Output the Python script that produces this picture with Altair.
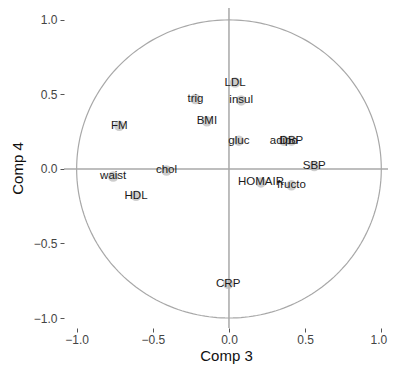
import altair as alt
import pandas as pd
import numpy as np

labels = ["LDL", "insul", "trig", "BMI", "FM", "waist", "chol", "HDL",
          "gluc", "adipo", "DBP", "SBP", "HOMAIR", "fructo", "CRP"]
comp3 = [0.04, 0.08, -0.22, -0.145, -0.72, -0.76, -0.41, -0.61,
         0.065, 0.36, 0.41, 0.56, 0.21, 0.41, -0.005]
comp4 = [0.58, 0.46, 0.47, 0.32, 0.29, -0.05, -0.01, -0.18,
         0.19, 0.19, 0.19, 0.02, -0.09, -0.11, -0.77]

df = pd.DataFrame({"label": labels, "x": comp3, "y": comp4})

t = np.linspace(0, 2 * np.pi, 241)
circ = pd.DataFrame({"i": np.arange(len(t)), "x": np.cos(t), "y": np.sin(t)})

ticks = [-1.0, -0.5, 0.0, 0.5, 1.0]
font = "Liberation Sans"

xs = alt.Scale(domain=[-1.083, 1.044], nice=False, zero=False)
ys = alt.Scale(domain=[-1.067, 1.08], nice=False, zero=False)

xax = alt.Axis(values=ticks, format=".1f", title="Comp 3", domain=False, grid=False,
               tickColor="#555", tickSize=4, labelColor="#444", labelFontSize=12,
               labelFont=font, labelPadding=2, labelBaseline="top",
               labelOffset={"expr": "datum.value == 1 ? -3 : 0"},
               titleFont=font, titleFontSize=15,
               titleFontWeight="normal", titleColor="#111", titlePadding=3)
yax = alt.Axis(values=ticks, format=".1f", title="Comp 4", domain=False, grid=False,
               tickColor="#555", tickSize=4, labelColor="#444", labelFontSize=12,
               labelFont=font, labelPadding=3, titleFont=font, titleFontSize=15,
               titleFontWeight="normal", titleColor="#111", titlePadding=8)

circle = alt.Chart(circ).mark_line(color="#A8A8A8", strokeWidth=1.2).encode(
    x=alt.X("x:Q", scale=xs, axis=xax),
    y=alt.Y("y:Q", scale=ys, axis=yax),
    order="i:Q",
)

hline = alt.Chart(pd.DataFrame({"y": [0.0]})).mark_rule(color="#A8A8A8", strokeWidth=1.5).encode(
    y=alt.Y("y:Q", scale=ys))
vline = alt.Chart(pd.DataFrame({"x": [0.0]})).mark_rule(color="#A8A8A8", strokeWidth=1.5).encode(
    x=alt.X("x:Q", scale=xs))

pts = alt.Chart(df).mark_circle(size=110, color="#B8B8B8", opacity=0.7).encode(
    x=alt.X("x:Q", scale=xs), y=alt.Y("y:Q", scale=ys))

txt = alt.Chart(df).mark_text(fontSize=11.5, font=font, color="#1a1a1a").encode(
    x=alt.X("x:Q", scale=xs), y=alt.Y("y:Q", scale=ys), text="label:N")

chart = alt.layer(circle, hline, vline, pts, txt).properties(
    width=324, height=320,
    autosize=alt.AutoSizeParams(type="none"),
    padding={"left": 56, "top": 0, "right": 0, "bottom": 39},
).configure_view(stroke=None)

chart.save("out.html", embed_options={"renderer": "svg", "actions": False})
